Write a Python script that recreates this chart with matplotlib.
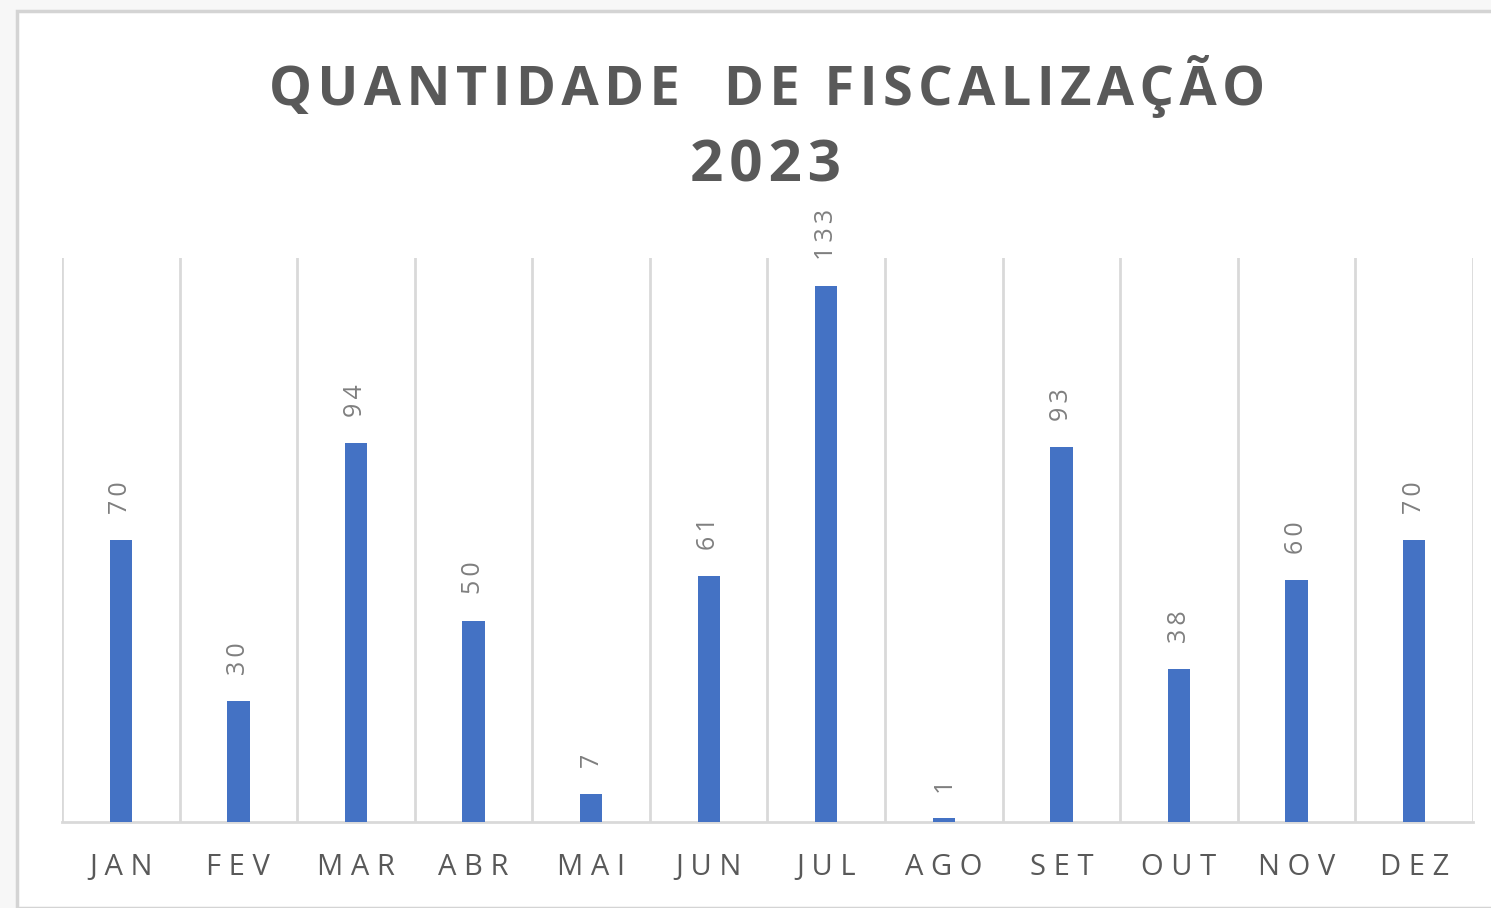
import matplotlib.pyplot as plt
from matplotlib.patches import Rectangle

# dados
meses = ['JAN', 'FEV', 'MAR', 'ABR', 'MAI', 'JUN', 'JUL', 'AGO', 'SET', 'OUT', 'NOV', 'DEZ']
valores = [70, 30, 94, 50, 7, 61, 133, 1, 93, 38, 60, 70]

fig = plt.figure(figsize=(14.91, 9.08), dpi=100)
fig.patch.set_facecolor('#f7f7f7')

# moldura branca do grafico
fig.patches.append(Rectangle((17 / 1491, 0), 1.0, 1 - 11 / 908, transform=fig.transFigure,
                             facecolor='white', edgecolor='#d4d4d4', linewidth=2.5, zorder=-10))

ax = fig.add_axes([62 / 1491, 86 / 908, (1473 - 62) / 1491, (822 - 258) / 908])
ax.set_facecolor('white')

x = range(len(meses))
ax.bar(x, valores, width=0.19, color='#4472C4', zorder=3)

# linhas verticais entre categorias
for i in range(len(meses) + 1):
    ax.axvline(i - 0.5, color='#d9d9d9', linewidth=2, zorder=1)

ax.set_xlim(-0.5, len(meses) - 0.5)
ax.set_ylim(0, 140)

fontes = ['Open Sans', 'DejaVu Sans']

for i, v in enumerate(valores):
    ax.annotate('\u2009'.join(str(v)), (i, v), xytext=(0, 19), textcoords='offset points',
                rotation=90, ha='center', va='bottom', fontsize=18,
                color='#7f7f7f', family=fontes)

ax.set_xticks(list(x))
ax.set_xticklabels([' '.join(m) for m in meses], fontsize=21, color='#595959', family='Open Sans')
ax.tick_params(axis='x', length=0, pad=22)
ax.set_yticks([])

for s in ['top', 'left', 'right']:
    ax.spines[s].set_visible(False)
ax.spines['bottom'].set_color('#d9d9d9')
ax.spines['bottom'].set_linewidth(2)

titulo = 'QUANTIDADE  DE FISCALIZAÇÃO'
fig.text(767 / 1491, 1 - 87 / 908, '\u200a'.join(titulo),
         ha='center', va='center', fontsize=39, fontweight='bold', color='#595959', family=fontes)
fig.text(766 / 1491, 1 - 166 / 908, '\u200a'.join('2023'), ha='center', va='center', fontsize=42,
         fontweight='bold', color='#595959', family=fontes)

fig.savefig('out.png', dpi=100, facecolor=fig.get_facecolor())
